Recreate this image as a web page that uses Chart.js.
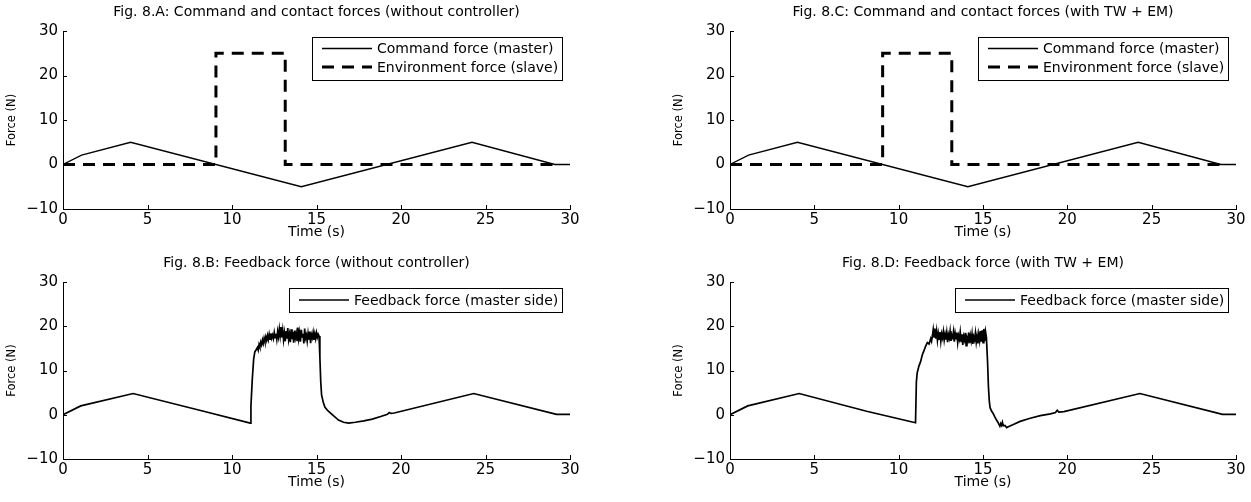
<!DOCTYPE html>
<html><head><meta charset="utf-8">
<script src="https://cdn.jsdelivr.net/npm/chart.js@4.4.1/dist/chart.umd.min.js"></script>
<style>
html,body{margin:0;padding:0;background:#fff;overflow:hidden}
#wrap{position:relative;width:1251px;height:502px;background:#fff}
canvas{position:absolute}
</style></head><body><div id="wrap">
<canvas id="cA" width="625" height="250" style="left:0;top:0"></canvas>
<canvas id="cB" width="625" height="251" style="left:0;top:251px"></canvas>
<canvas id="cC" width="626" height="250" style="left:625px;top:0"></canvas>
<canvas id="cD" width="626" height="251" style="left:625px;top:251px"></canvas>
</div>
<script>
// ---- data ----
const xTicks = [0, 5, 10, 15, 20, 25, 30];
const yTicks = [-10, 0, 10, 20, 30];

const cmdTime  = [0, 1.1, 4.0, 14.1, 24.2, 29.1, 30];
const cmdForce = [0, 2.1, 5.0, -5.0, 5.0, 0, 0];

const envTime  = [0, 9.05, 9.05, 13.15, 13.15, 29.4];
const envForce = [0, 0, 25, 25, 0, 0];

const fbTimeB = [0, 1.05, 4.15, 8.2, 11.08, 11.12, 11.2, 11.28, 11.35, 11.45,
  11.5, 11.55, 11.6, 11.65, 11.7, 11.75, 11.8, 11.85, 11.9, 11.95,
  12.0, 12.05, 12.1, 12.15, 12.2, 12.25, 12.3, 12.35, 12.4, 12.45,
  12.5, 12.55, 12.6, 12.65, 12.7, 12.75, 12.8, 12.85, 12.9, 12.95,
  13.0, 13.05, 13.1, 13.15, 13.2, 13.25, 13.3, 13.35, 13.4, 13.45,
  13.5, 13.55, 13.6, 13.65, 13.7, 13.75, 13.8, 13.85, 13.9, 13.95,
  14.0, 14.05, 14.1, 14.15, 14.2, 14.25, 14.3, 14.35, 14.4, 14.45,
  14.5, 14.55, 14.6, 14.65, 14.7, 14.75, 14.8, 14.85, 14.9, 14.95,
  15.0, 15.05, 15.1,
  15.15, 15.2, 15.25, 15.3, 15.4, 15.5, 15.7, 16.0, 16.3, 16.6, 16.9, 17.3, 17.8, 18.3, 18.8,
  19.2, 19.3, 19.4, 19.6, 24.3, 29.2, 30];
const fbForceB = [0, 2.0, 4.8, 0.9, -1.9, 2.0, 8.0, 12.5, 14.2, 14.8,
  15.2, 14.6, 15.9, 15.3, 16.4, 15.8, 16.9, 16.1, 17.3, 16.5,
  17.6, 16.8, 17.9, 17.0, 18.2, 17.1, 18.4, 17.3, 18.0, 17.2,
  18.6, 17.4, 18.3, 17.0, 18.8, 17.6, 19.4, 17.8, 19.8, 17.5,
  19.1, 16.9, 18.5, 16.6, 18.9, 17.2, 19.6, 17.0, 18.2, 16.4,
  19.3, 17.1, 18.7, 16.3, 19.0, 17.4, 18.5, 16.8, 19.7, 17.2,
  18.6, 16.5, 19.2, 17.6, 18.3, 16.1, 19.5, 17.3, 18.0, 16.6,
  18.4, 17.0, 18.8, 16.2, 18.1, 17.4, 18.6, 16.9, 18.3, 17.2,
  18.5, 17.5, 18.2,
  17.8, 13.0, 7.5, 4.5, 2.8, 1.7, 0.8, -0.2, -1.2, -1.7, -1.9, -1.7, -1.4, -1.0, -0.4,
  0.1, 0.5, 0.3, 0.4, 4.8, 0.1, 0.1];

const fbTimeD = [0, 1.05, 4.1, 8.1, 11.0, 11.05, 11.1, 11.2, 11.3, 11.4, 11.5, 11.6, 11.7, 11.8, 11.9, 11.95,
  12.0, 12.05, 12.1, 12.15, 12.2, 12.25, 12.3, 12.35, 12.4, 12.45,
  12.5, 12.55, 12.6, 12.65, 12.7, 12.75, 12.8, 12.85, 12.9, 12.95,
  13.0, 13.05, 13.1, 13.15, 13.2, 13.25, 13.3, 13.35, 13.4, 13.45,
  13.5, 13.55, 13.6, 13.65, 13.7, 13.75, 13.8, 13.85, 13.9, 13.95,
  14.0, 14.05, 14.1, 14.15, 14.2, 14.25, 14.3, 14.35, 14.4, 14.45,
  14.5, 14.55, 14.6, 14.65, 14.7, 14.75, 14.8, 14.85, 14.9, 14.95,
  15.0, 15.05, 15.1, 15.15, 15.2,
  15.27, 15.32, 15.37, 15.42, 15.5, 15.6, 15.7, 15.8, 15.9, 16.0, 16.05, 16.1, 16.15, 16.2, 16.3,
  16.4, 16.5, 16.8, 17.2, 17.8, 18.4, 19.0, 19.3, 19.4, 19.5, 19.8, 24.3, 29.2, 30];
const fbForceD = [0, 2.0, 4.8, 0.8, -1.8, 7.5, 9.5, 11.0, 12.0, 13.5, 14.5, 15.5, 16.3, 16.0, 17.2, 16.6,
  17.8, 19.3, 17.6, 19.5, 17.2, 18.9, 16.8, 18.4, 17.1, 18.7,
  16.6, 18.3, 17.4, 18.8, 16.9, 18.2, 17.0, 18.6, 16.4, 18.1,
  17.3, 18.9, 16.7, 18.0, 17.5, 18.8, 16.5, 18.4, 17.2, 18.6,
  16.3, 17.9, 17.1, 18.7, 16.6, 18.2, 15.8, 17.7, 16.9, 18.5,
  15.6, 17.4, 16.8, 18.6, 16.2, 17.9, 16.7, 18.3, 16.0, 17.6,
  16.9, 18.5, 16.4, 17.8, 16.1, 18.2, 16.8, 18.9, 16.5, 19.1,
  16.3, 19.4, 16.6, 18.8, 17.6,
  12.0, 6.5, 3.2, 1.6, 0.9, 0.3, -0.5, -1.2, -1.8, -2.6, -2.0, -2.4, -1.7, -2.5, -2.4,
  -2.9, -2.7, -2.2, -1.5, -0.8, -0.2, 0.2, 0.5, 1.0, 0.6, 0.7, 4.8, 0.1, 0.1];

const titles = [
  'Fig. 8.A: Command and contact forces (without controller)',
  'Fig. 8.B: Feedback force (without controller)',
  'Fig. 8.C: Command and contact forces (with TW + EM)',
  'Fig. 8.D: Feedback force (with TW + EM)'
];
const seriesNames = ['Command force (master)', 'Environment force (slave)', 'Feedback force (master side)'];

// ---- rendering ----
Chart.defaults.color = '#000';
Chart.defaults.font.family = '"DejaVu Sans", sans-serif';
const FONT = '"DejaVu Sans", sans-serif';

const pts = (t, v) => t.map((x, i) => ({x: x, y: v[i]}));
const fmt = v => (v < 0 ? '\u2212' + Math.abs(v) : String(v));

const inwardTicks = {
  id: 'inwardTicks',
  afterDatasetsDraw(chart) {
    const {ctx, chartArea: ca, scales} = chart;
    ctx.save();
    ctx.strokeStyle = '#000'; ctx.lineWidth = 1; ctx.setLineDash([]);
    ctx.beginPath();
    scales.x.ticks.forEach(t => {
      const px = Math.round(scales.x.getPixelForValue(t.value)) + 0.5;
      ctx.moveTo(px, ca.bottom); ctx.lineTo(px, ca.bottom - 4);
    });
    scales.y.ticks.forEach(t => {
      const py = Math.round(scales.y.getPixelForValue(t.value)) + 0.5;
      ctx.moveTo(ca.left, py); ctx.lineTo(ca.left + 4, py);
    });
    ctx.stroke();
    ctx.restore();
  }
};

const boxLegend = {
  id: 'boxLegend',
  afterDraw(chart, args, opts) {
    const ctx = chart.ctx, ca = chart.chartArea, ds = chart.data.datasets;
    ctx.save();
    ctx.font = '14px ' + FONT;
    const tw = Math.max(...ds.map(d => ctx.measureText(d.label).width));
    const lineLen = 50, padL = 10, gap = 5, padR = 4;
    const w = Math.round(padL + lineLen + gap + tw + padR);
    const right = Math.round(ca.right - 8);
    const left = right - w;
    const top = Math.round(ca.top + 6);
    ctx.fillStyle = '#fff';
    ctx.fillRect(left, top, w, opts.height);
    ctx.strokeStyle = '#000'; ctx.lineWidth = 1;
    ctx.strokeRect(left + 0.5, top + 0.5, w, opts.height);
    ds.forEach((d, i) => {
      const y = top + opts.firstRow + i * opts.rowGap;
      ctx.beginPath();
      ctx.setLineDash(d.borderDash || []);
      ctx.lineWidth = d.borderWidth;
      ctx.strokeStyle = d.borderColor;
      ctx.moveTo(left + padL, y); ctx.lineTo(left + padL + lineLen, y);
      ctx.stroke();
      ctx.setLineDash([]);
      ctx.fillStyle = '#000'; ctx.textBaseline = 'middle'; ctx.textAlign = 'left';
      ctx.fillText(d.label, left + padL + lineLen + gap, y + 1);
    });
    ctx.restore();
  }
};

function makeChart(id, titleText, datasets, g) {
  return new Chart(document.getElementById(id), {
    type: 'line',
    data: {datasets: datasets},
    options: {
      responsive: false, animation: false, events: [],
      layout: {padding: {left: g.padL, right: g.padR, top: 0, bottom: 0}},
      plugins: {
        legend: {display: false}, tooltip: {enabled: false},
        title: {display: true, fullSize: false, text: titleText, color: '#000',
          font: {size: 14, weight: 'normal', family: FONT},
          padding: {top: 3.6, bottom: 10.6}},
        boxLegend: {firstRow: g.lgFirst, rowGap: 18.5, height: g.lgH}
      },
      scales: {
        x: {
          type: 'linear', min: 0, max: 30,
          afterFit: s => { s.height = g.xH; },
          afterBuildTicks: s => { s.ticks = xTicks.map(v => ({value: v})); },
          ticks: {padding: 2, font: {size: 15, family: FONT}, maxRotation: 0, autoSkip: false, callback: fmt, color: '#000'},
          grid: {display: false, drawTicks: false},
          border: {display: true, color: '#000', width: 1},
          title: {display: true, text: 'Time (s)', color: '#000', font: {size: 14, family: FONT}, padding: {top: 0, bottom: g.xtPad}}
        },
        y: {
          type: 'linear', min: -10, max: 30,
          afterFit: s => { s.width = 63; },
          afterBuildTicks: s => { s.ticks = yTicks.map(v => ({value: v})); },
          ticks: {padding: 5, font: {size: 15, family: FONT}, callback: fmt, color: '#000'},
          grid: {display: false, drawTicks: false},
          border: {display: true, color: '#000', width: 1},
          title: {display: true, text: 'Force (N)', color: '#000', font: {size: 11.5, family: FONT}, padding: {top: 5, bottom: 0}}
        }
      }
    },
    plugins: [inwardTicks, boxLegend]
  });
}

function cmdSets() {
  return [
    {label: seriesNames[0], data: pts(cmdTime, cmdForce), borderColor: '#000', borderWidth: 1.3,
     pointRadius: 0, tension: 0, fill: false, order: 1},
    {label: seriesNames[1], data: pts(envTime, envForce), borderColor: '#000', borderWidth: 3,
     borderDash: [12, 8], pointRadius: 0, tension: 0, fill: false, order: 0}
  ];
}
function fbSet(t, v) {
  return [{label: seriesNames[2], data: pts(t, v), borderColor: '#000', borderWidth: 1.7,
    pointRadius: 0, tension: 0, fill: false}];
}

const gTop = {xH: 41, xtPad: 9.4, lgFirst: 11.5, lgH: 43};
const gBot = {xH: 43, xtPad: 11.6, lgFirst: 12, lgH: 24};
makeChart('cA', titles[0], cmdSets(), Object.assign({padL: 0, padR: 55}, gTop));
makeChart('cB', titles[1], fbSet(fbTimeB, fbForceB), Object.assign({padL: 0, padR: 55}, gBot));
makeChart('cC', titles[2], cmdSets(), Object.assign({padL: 42, padR: 15}, gTop));
makeChart('cD', titles[3], fbSet(fbTimeD, fbForceD), Object.assign({padL: 42, padR: 15}, gBot));
</script>
</body></html>
